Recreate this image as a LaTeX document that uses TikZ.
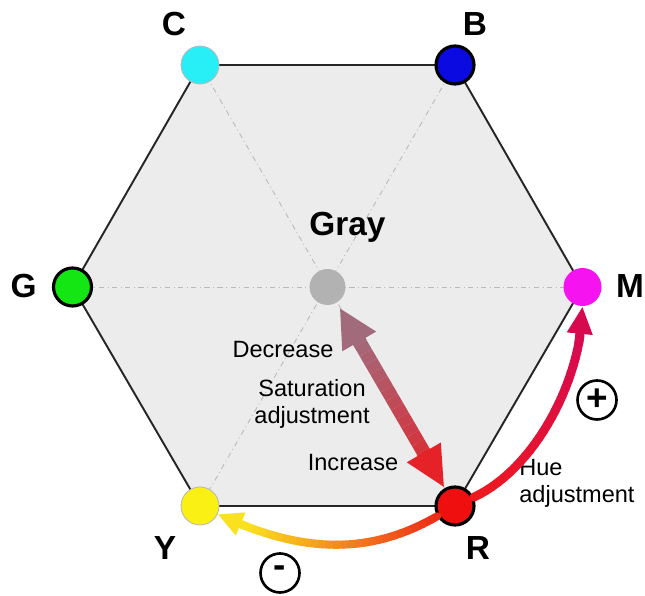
\documentclass[tikz,border=0pt]{standalone}
\usepackage{fontspec}
\setmainfont{Liberation Sans}
\usetikzlibrary{arrows.meta, calc, backgrounds}

\definecolor{cyanfill}{RGB}{40,238,245}
\definecolor{bluefill}{RGB}{10,10,225}
\definecolor{greenfill}{RGB}{20,230,20}
\definecolor{magfill}{RGB}{245,20,240}
\definecolor{yelfill}{RGB}{250,240,20}
\definecolor{redfill}{RGB}{240,15,15}
\definecolor{grayfill}{RGB}{178,178,178}
\definecolor{satA}{RGB}{150,120,140}
\definecolor{satB}{RGB}{232,30,35}
\definecolor{hueA}{RGB}{238,25,30}
\definecolor{hueB}{RGB}{215,10,80}
\definecolor{negA}{RGB}{238,45,25}
\definecolor{negB}{RGB}{250,225,30}

\begin{document}
\begin{tikzpicture}[
  vertex/.style={circle, minimum size=0.76cm, inner sep=0pt},
  primary/.style={vertex, draw=black, line width=1.8pt},
  secondary/.style={vertex, draw=gray!55, line width=0.5pt},
  corner/.style={font=\fontsize{19}{22}\selectfont\bfseries},
  note/.style={font=\fontsize{13.4}{15.5}\selectfont, align=center, inner sep=0pt},
  sign/.style={circle, draw=black, line width=1.5pt, minimum size=0.78cm, inner sep=0pt, font=\fontsize{21}{21}\selectfont\bfseries},
  spoke/.style={gray!55, line width=0.5pt, dash dot},
  hexedge/.style={draw=black!85, line width=1.1pt, fill=gray!15},
]
\useasboundingbox (0,0) rectangle (12.9,11.92);

% colour corners
\node[secondary, fill=cyanfill] (C) at (4.00,10.62) {};
\node[primary, fill=bluefill] (B) at (9.10,10.62) {};
\node[primary, fill=greenfill] (G) at (1.45,6.18) {};
\node[vertex, fill=magfill] (M) at (11.65,6.18) {};
\node[secondary, fill=yelfill] (Y) at (4.00,1.80) {};
\node[primary, fill=redfill] (R) at (9.10,1.80) {};
\node[vertex, draw=gray!60, line width=0.5pt, fill=grayfill, minimum size=0.7cm] (Gray) at (6.55,6.18) {};

\begin{scope}[on background layer]
  \draw[hexedge] (C.center) -- (B.center) -- (M.center) -- (R.center)
    -- (Y.center) -- (G.center) -- cycle;
  \draw[spoke] (C.center) -- (R.center);
  \draw[spoke] (B.center) -- (Y.center);
  \draw[spoke] (G.center) -- (M.center);
\end{scope}

% labels
\node[corner] (lblC) at (3.48,11.44) {C};
\node[corner] (lblB) at (9.50,11.44) {B};
\node[corner] (lblG) at (0.47,6.20) {G};
\node[corner] (lblM) at (12.60,6.20) {M};
\node[corner] (lblY) at (3.30,0.96) {Y};
\node[corner] (lblR) at (9.56,0.96) {R};
\node[corner] (lblGray) at (6.95,7.38) {Gray};

\node[note] (dec) at (5.66,4.92) {Decrease};
\node[note] (satlbl) at (6.24,3.84) {Saturation\\adjustment};
\node[note] (inc) at (7.06,2.66) {Increase};
\node[note, anchor=west, align=left] (huelbl) at (10.38,2.26) {Hue\\adjustment};

\node[sign] (plus) at (11.94,3.92) {+};
\node[sign] (minus) at (5.60,0.46) {\raisebox{1.5pt}{-}};

% saturation arrow (Gray <-> R)
\coordinate (satU) at ($(Gray)!0.48cm!(R)$);
\coordinate (satL) at ($(R)!0.42cm!(Gray)$);
\foreach \i in {0,...,20}
  \coordinate (sat\i) at ($(satU)!\i/20!(satL)$);
\foreach \i [count=\j from 4] in {3,...,16}{
  \pgfmathtruncatemacro\mix{5*\i}
  \draw[line width=8pt, satB!\mix!satA] (sat\i) -- (sat\j);
}
\draw[line width=8pt, satB!15!satA, -{Triangle[length=0.78cm,width=0.72cm]}] (sat4) -- (satU);
\draw[line width=8pt, satB!95!satA, -{Triangle[length=0.82cm,width=0.72cm]}] (sat16) -- (satL);

% hue arrow (R -> M)
\foreach \i [evaluate=\i as \t using \i/30] in {0,...,30}
  \path (R) .. controls +(25:1.8) and +(-90:1.8) .. (M) coordinate[pos=\t] (hue\i);
\foreach \i [count=\j from 1] in {0,...,25}{
  \pgfmathtruncatemacro\mix{4*\i}
  \draw[line width=5pt, line cap=round, hueB!\mix!hueA] (hue\i) -- (hue\j);
}
\draw[line width=5pt, hueB, -{Triangle[length=0.55cm,width=0.48cm]}] (hue25) -- (hue30);

% hue arrow (R -> Y)
\foreach \i [evaluate=\i as \t using \i/30] in {0,...,30}
  \path (R) .. controls +(-150:2.1) and +(-25:2.1) .. (Y) coordinate[pos=\t] (neg\i);
\foreach \i [count=\j from 1] in {0,...,26}{
  \pgfmathtruncatemacro\mix{\i*100/26}
  \draw[line width=4.6pt, line cap=round, negB!\mix!negA] (neg\i) -- (neg\j);
}
\draw[line width=4.6pt, negB, -{Triangle[length=0.5cm,width=0.46cm]}] (neg26) -- (neg30);
\end{tikzpicture}
\end{document}
